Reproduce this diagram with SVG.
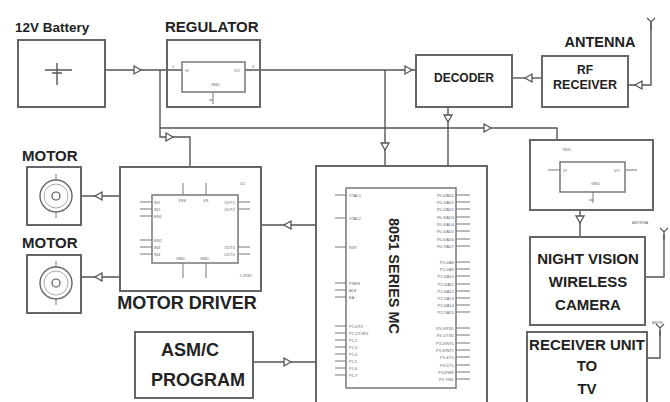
<svg xmlns="http://www.w3.org/2000/svg" xmlns:xlink="http://www.w3.org/1999/xlink" width="670" height="402" viewBox="0 0 670 402">
<style>
.box{fill:none;stroke:#666;stroke-width:2}
.chip{fill:none;stroke:#777;stroke-width:1.5}
.w{fill:none;stroke:#555;stroke-width:1.4}
.p{fill:none;stroke:#777;stroke-width:1}
.t{font-family:"Liberation Sans",Arial,sans-serif;font-weight:bold;fill:#222}
.s{font-family:"Liberation Sans",Arial,sans-serif;font-size:4px;fill:#666}
</style>
<defs>
<polygon id="arr" points="-3,-4 4,0 -3,4" fill="#fff" stroke="#555" stroke-width="1.3"/>
<g id="ant"><path d="M0,0 V-8 M-4,-12 L0,-8 L4,-12" fill="none" stroke="#555" stroke-width="1.2"/></g>
</defs>
<rect width="670" height="402" fill="#fff"/>

<g id="connectors">
<path class="w" d="M105,70 H182 M245,70 H416"/>
<path class="w" d="M160,70 V137 H190 V167"/>
<path class="w" d="M160,128 H557 V140"/>
<path class="w" d="M385,70 V166"/>
<path class="w" d="M448,107 V166"/>
<path class="w" d="M512,78 H542"/>
<path class="w" d="M628,85 H651 V22"/>
<path class="w" d="M81,196 H120"/>
<path class="w" d="M81,277 H120"/>
<path class="w" d="M261,225 H316"/>
<path class="w" d="M253,362 H316"/>
<path class="w" d="M580,210 V237"/>
<path class="w" d="M645,277 H664 V234"/>
<path class="w" d="M647,358 H660 V330"/>
<use xlink:href="#arr" transform="translate(137,70)"/>
<use xlink:href="#arr" transform="translate(408,70)"/>
<use xlink:href="#arr" transform="translate(169,137)"/>
<use xlink:href="#arr" transform="translate(487,128)"/>
<use xlink:href="#arr" transform="translate(385,146) rotate(90)"/>
<use xlink:href="#arr" transform="translate(448,118) rotate(90)"/>
<use xlink:href="#arr" transform="translate(529,78) rotate(180)"/>
<use xlink:href="#arr" transform="translate(639,85) rotate(180)"/>
<use xlink:href="#arr" transform="translate(99,196) rotate(180)"/>
<use xlink:href="#arr" transform="translate(99,277) rotate(180)"/>
<use xlink:href="#arr" transform="translate(288,225) rotate(180)"/>
<use xlink:href="#arr" transform="translate(287,362)"/>
<use xlink:href="#arr" transform="translate(580,219) rotate(90)"/>
<use xlink:href="#ant" transform="translate(651,30)"/>
<use xlink:href="#ant" transform="translate(664,240)"/>
<use xlink:href="#ant" transform="translate(660,336)"/>
</g>

<g id="battery">
<text class="t" x="15" y="32" font-size="13.5">12V Battery</text>
<rect class="box" x="18" y="40" width="87" height="67"/>
<path class="w" d="M45,70 H72 M52,73 H62 M57,63 V85"/>
</g>

<g id="regulator">
<text class="t" x="165" y="32" font-size="15">REGULATOR</text>
<rect class="box" x="167" y="40" width="93" height="67"/>
<rect class="chip" x="182" y="62" width="63" height="30"/>
<path class="p" d="M213,92 V104 M209,100 H213"/>
<text class="s" x="185" y="72">VI</text>
<text class="s" x="234" y="72">VO</text>
<text class="s" x="172" y="68">1</text>
<text class="s" x="252" y="68">3</text>
<text class="s" x="211" y="86">GND</text>
</g>

<g id="decoder">
<rect class="box" x="416" y="55" width="96" height="52"/>
<text class="t" x="464" y="82" font-size="12" text-anchor="middle">DECODER</text>
</g>

<g id="rf-receiver">
<text class="t" x="600" y="47" font-size="14.5" text-anchor="middle">ANTENNA</text>
<rect class="box" x="542" y="56" width="86" height="51"/>
<text class="t" x="585" y="74" font-size="12" text-anchor="middle">RF</text>
<text class="t" x="585" y="89" font-size="12.5" text-anchor="middle">RECEIVER</text>
</g>

<g id="motor1">
<text class="t" x="22" y="161" font-size="15">MOTOR</text>
<rect class="box" x="27" y="167" width="54" height="58"/>
<circle cx="56" cy="196" r="16" fill="none" stroke="#666" stroke-width="1.4"/>
<circle cx="56" cy="196" r="12" fill="none" stroke="#aaa" stroke-width="1"/>
<circle cx="56" cy="196" r="4" fill="none" stroke="#555" stroke-width="1.2"/>
<path class="p" d="M56,174 V180 M56,212 V218"/>
</g>

<g id="motor2">
<text class="t" x="22" y="248" font-size="15">MOTOR</text>
<rect class="box" x="27" y="255" width="54" height="58"/>
<circle cx="56" cy="283" r="16" fill="none" stroke="#666" stroke-width="1.4"/>
<circle cx="56" cy="283" r="12" fill="none" stroke="#aaa" stroke-width="1"/>
<circle cx="56" cy="283" r="4" fill="none" stroke="#555" stroke-width="1.2"/>
<path class="p" d="M56,261 V267 M56,299 V305"/>
</g>

<g id="motor-driver">
<rect class="box" x="120" y="167" width="141" height="124"/>
<rect class="chip" x="152" y="195" width="86" height="68"/>
<path class="p" d="M140,202 H152 M140,209 H152 M140,216 H152 M140,240 H152 M140,247 H152 M140,254 H152 M238,202 H250 M238,209 H250 M238,247 H250 M238,254 H250 M183,183 V195 M206,183 V195 M183,263 V278 M206,263 V278"/>
<text class="s" x="154" y="204">IN1</text>
<text class="s" x="154" y="211">IN2</text>
<text class="s" x="154" y="218">EN1</text>
<text class="s" x="154" y="242">EN2</text>
<text class="s" x="154" y="249">IN3</text>
<text class="s" x="154" y="256">IN4</text>
<text class="s" x="224" y="204">OUT1</text>
<text class="s" x="224" y="211">OUT2</text>
<text class="s" x="224" y="249">OUT3</text>
<text class="s" x="224" y="256">OUT4</text>
<text class="s" x="178" y="202">VSS</text>
<text class="s" x="203" y="202">VS</text>
<text class="s" x="176" y="260">GND</text>
<text class="s" x="200" y="260">GND</text>
<text class="s" x="240" y="185">U2</text>
<text class="s" x="240" y="277">L293D</text>
<text class="t" x="187" y="309" font-size="18" text-anchor="middle">MOTOR DRIVER</text>
</g>

<g id="mc">
<rect class="box" x="316" y="166" width="171" height="240"/>
<rect class="chip" x="346" y="188" width="110" height="200"/>
<path class="p" d="M335,195 H346 M335,218 H346 M335,247 H346 M335,283 H346 M335,290 H346 M335,297 H346 M335,326 H346 M335,333 H346 M335,340 H346 M335,347 H346 M335,354 H346 M335,361 H346 M335,368 H346 M335,375 H346"/>
<path class="p" d="M456,195 H470 M456,202 H470 M456,209 H470 M456,217 H470 M456,224 H470 M456,231 H470 M456,239 H470 M456,246 H470 M456,262 H470 M456,269 H470 M456,276 H470 M456,284 H470 M456,291 H470 M456,298 H470 M456,305 H470 M456,312 H470 M456,328 H470 M456,335 H470 M456,343 H470 M456,350 H470 M456,357 H470 M456,365 H470 M456,372 H470 M456,379 H470"/>
<text class="s" x="349" y="197">XTAL1</text>
<text class="s" x="349" y="220">XTAL2</text>
<text class="s" x="349" y="249">RST</text>
<text class="s" x="349" y="285">PSEN</text>
<text class="s" x="349" y="292">ALE</text>
<text class="s" x="349" y="299">EA</text>
<text class="s" x="349" y="328">P1.0/T2</text>
<text class="s" x="349" y="335">P1.1/T2EX</text>
<text class="s" x="349" y="342">P1.2</text>
<text class="s" x="349" y="349">P1.3</text>
<text class="s" x="349" y="356">P1.4</text>
<text class="s" x="349" y="363">P1.5</text>
<text class="s" x="349" y="370">P1.6</text>
<text class="s" x="349" y="377">P1.7</text>
<g text-anchor="end">
<text class="s" x="454" y="197">P0.0/AD0</text>
<text class="s" x="454" y="204">P0.1/AD1</text>
<text class="s" x="454" y="211">P0.2/AD2</text>
<text class="s" x="454" y="219">P0.3/AD3</text>
<text class="s" x="454" y="226">P0.4/AD4</text>
<text class="s" x="454" y="233">P0.5/AD5</text>
<text class="s" x="454" y="241">P0.6/AD6</text>
<text class="s" x="454" y="248">P0.7/AD7</text>
<text class="s" x="454" y="264">P2.0/A8</text>
<text class="s" x="454" y="271">P2.1/A9</text>
<text class="s" x="454" y="278">P2.2/A10</text>
<text class="s" x="454" y="286">P2.3/A11</text>
<text class="s" x="454" y="293">P2.4/A12</text>
<text class="s" x="454" y="300">P2.5/A13</text>
<text class="s" x="454" y="307">P2.6/A14</text>
<text class="s" x="454" y="314">P2.7/A15</text>
<text class="s" x="454" y="330">P3.0/RXD</text>
<text class="s" x="454" y="337">P3.1/TXD</text>
<text class="s" x="454" y="345">P3.2/INT0</text>
<text class="s" x="454" y="352">P3.3/INT1</text>
<text class="s" x="454" y="359">P3.4/T0</text>
<text class="s" x="454" y="367">P3.5/T1</text>
<text class="s" x="454" y="374">P3.6/WR</text>
<text class="s" x="454" y="381">P3.7/RD</text>
</g>
<text class="t" font-size="14.5" transform="translate(389,218) rotate(90)">8051 SERIES MC</text>
</g>

<g id="program">
<rect class="box" x="135" y="332" width="118" height="66"/>
<text class="t" x="190" y="356" font-size="18" text-anchor="middle">ASM/C</text>
<text class="t" x="198" y="386" font-size="18" text-anchor="middle">PROGRAM</text>
</g>

<g id="regulator2">
<rect class="box" x="530" y="140" width="123" height="70"/>
<rect class="chip" x="560" y="162" width="65" height="30"/>
<path class="p" d="M548,170 H560 M625,170 H637 M593,192 V203 M589,200 H593"/>
<text class="s" x="562" y="151">7805</text>
<text class="s" x="563" y="172">VI</text>
<text class="s" x="614" y="172">VO</text>
<text class="s" x="591" y="185">GND</text>
</g>

<g id="camera">
<text class="s" x="632" y="224">ANTENA</text>
<rect class="box" x="530" y="237" width="115" height="88"/>
<text class="t" x="588" y="264" font-size="15" text-anchor="middle">NIGHT VISION</text>
<text class="t" x="588" y="287" font-size="15" text-anchor="middle">WIRELESS</text>
<text class="t" x="588" y="310" font-size="15" text-anchor="middle">CAMERA</text>
</g>

<g id="receiver-unit">
<text class="s" x="652" y="324">ANTE</text>
<rect class="box" x="527" y="332" width="120" height="72"/>
<text class="t" x="587" y="350" font-size="15" text-anchor="middle">RECEIVER UNIT</text>
<text class="t" x="587" y="371" font-size="15" text-anchor="middle">TO</text>
<text class="t" x="587" y="394" font-size="15" text-anchor="middle">TV</text>
</g>
</svg>
